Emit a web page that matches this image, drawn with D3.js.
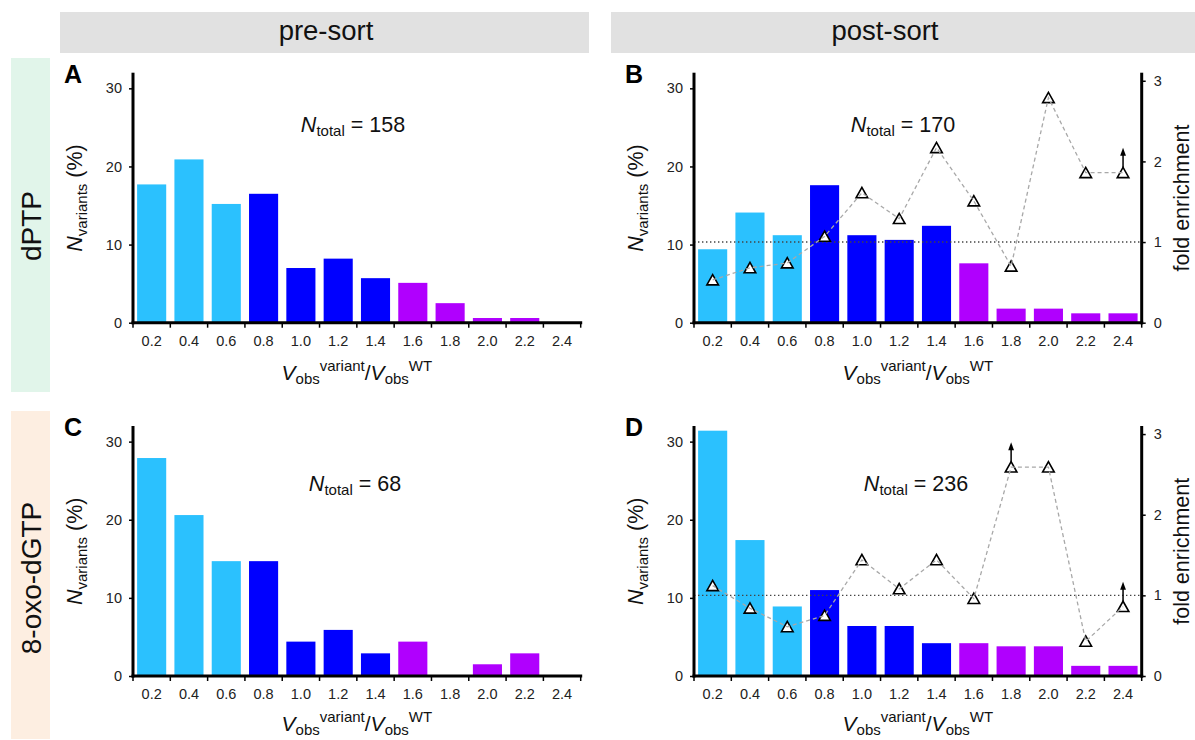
<!DOCTYPE html>
<html><head><meta charset="utf-8">
<script src="https://cdn.jsdelivr.net/npm/d3@7"></script>
<style>
body{margin:0;background:#fff;}
svg{display:block;font-family:"Liberation Sans",Arial,Helvetica,sans-serif;}
</style></head>
<body><svg id="c" width="1195" height="740"></svg>
<script>
// ---------- data ----------
const categories = ["0.2","0.4","0.6","0.8","1.0","1.2","1.4","1.6","1.8","2.0","2.2","2.4"];
const binGroup   = ["low","low","low","mid","mid","mid","mid","high","high","high","high","high"];
const preDPTP  = [17.7,20.9,15.2,16.5,7.0,8.2,5.7,5.1,2.5,0.6,0.6,0];
const postDPTP = [9.4,14.1,11.2,17.6,11.2,10.6,12.4,7.6,1.8,1.8,1.2,1.2];
const preOxo   = [27.9,20.6,14.7,14.7,4.4,5.9,2.9,4.4,0,1.5,2.9,0];
const postOxo  = [31.4,17.4,8.9,11.0,6.4,6.4,4.2,4.2,3.8,3.8,1.3,1.3];
const foldDPTP = [0.53,0.68,0.74,1.07,1.61,1.29,2.17,1.51,0.70,2.79,1.86,1.86];
const foldOxo  = [1.12,0.84,0.61,0.75,1.44,1.08,1.44,0.96,2.59,2.59,0.43,0.86];
const lowerBoundDPTP = ["2.4"];
const lowerBoundOxo  = ["1.8","2.4"];
const nTotals = {A:"158", B:"170", C:"68", D:"236"};
const yTicks = [0,10,20,30];
const foldTicks = [0,1,2,3];

const colors = {low:"#2BC1FE", mid:"#0000FF", high:"#B000FE"};

const svg = d3.select("#c");

// ---------- header bands / strips ----------
svg.append("rect").attr("x",60).attr("y",12).attr("width",529).attr("height",41).attr("fill","#e1e1e1");
svg.append("rect").attr("x",611).attr("y",12).attr("width",584).attr("height",41).attr("fill","#e1e1e1");
svg.append("text").attr("x",326).attr("y",40).attr("text-anchor","middle").attr("font-size",27.5).attr("fill","#111").text("pre-sort");
svg.append("text").attr("x",885).attr("y",40).attr("text-anchor","middle").attr("font-size",27.5).attr("fill","#111").text("post-sort");

svg.append("rect").attr("x",11).attr("y",58).attr("width",39).attr("height",334).attr("fill","#e1f5ea");
svg.append("rect").attr("x",11).attr("y",411).attr("width",39).attr("height",328).attr("fill","#fdeee1");
svg.append("text").attr("transform","translate(41,226) rotate(-90)").attr("text-anchor","middle").attr("font-size",28).attr("fill","#111").text("dPTP");
svg.append("text").attr("transform","translate(41,578) rotate(-90)").attr("text-anchor","middle").attr("font-size",28).attr("fill","#111").text("8-oxo-dGTP");

// ---------- panels ----------
const W = 447.7;
const panels = [
  {id:"A", x0:133, dy:0,     vals:preDPTP,  fold:null,     lb:[],             nx:353, ny:132, xt:380},
  {id:"B", x0:694, dy:0,     vals:postDPTP, fold:foldDPTP, lb:lowerBoundDPTP, nx:903, ny:132, xt:380},
  {id:"C", x0:133, dy:353.3, vals:preOxo,   fold:null,     lb:[],             nx:355, ny:491, xt:731},
  {id:"D", x0:694, dy:353.3, vals:postOxo,  fold:foldOxo,  lb:lowerBoundOxo,  nx:916, ny:491, xt:731}
];

panels.forEach(p => {
  const yTop = 72.7 + p.dy, yBot = 322.7 + p.dy;
  const x = d3.scaleBand().domain(categories).range([p.x0, p.x0 + W]).paddingInner(0.22).paddingOuter(0.11);
  const y = d3.scaleLinear().domain([0,32]).range([yBot, yTop]);
  const g = svg.append("g");

  // bars
  g.selectAll("rect.bar").data(categories).join("rect")
    .attr("class","bar")
    .attr("x", d => x(d))
    .attr("width", x.bandwidth())
    .attr("y", (d,i) => y(p.vals[i]))
    .attr("height", (d,i) => yBot - y(p.vals[i]))
    .attr("fill", (d,i) => colors[binGroup[i]]);

  // fold enrichment
  if (p.fold) {
    const yr = d3.scaleLinear().domain([0,3.1]).range([yBot, yTop]);
    g.append("line").attr("x1", p.x0).attr("x2", p.x0 + W)
      .attr("y1", yr(1)).attr("y2", yr(1))
      .attr("stroke","#444").attr("stroke-width",1.4).attr("stroke-dasharray","1.4,2.6");
    const pts = categories.map((c,i) => [x(c) + x.bandwidth()/2, yr(p.fold[i])]);
    categories.forEach((c,i) => {
      if (p.lb.includes(c)) {
        const cx = pts[i][0], cy = pts[i][1];
        g.append("line").attr("x1",cx).attr("x2",cx).attr("y1",cy-5).attr("y2",cy-18)
          .attr("stroke","#000").attr("stroke-width",1.5);
        g.append("path").attr("d",`M${cx},${cy-25}L${cx-2.9},${cy-17}L${cx+2.9},${cy-17}Z`).attr("fill","#000");
      }
    });
    g.selectAll("path.tri").data(pts).join("path").attr("class","tri")
      .attr("d", d => `M${d[0]},${d[1]-5.4}L${d[0]+5.8},${d[1]+4.9}L${d[0]-5.8},${d[1]+4.9}Z`)
      .attr("fill","#fff").attr("stroke","#000").attr("stroke-width",1.6);
    g.append("path").attr("d", d3.line()(pts)).attr("fill","none")
      .attr("stroke","#a8a8a8").attr("stroke-width",1.3).attr("stroke-dasharray","4,3");

    const ra = g.append("g").attr("transform",`translate(${p.x0 + W},0)`)
      .call(d3.axisRight(yr).tickValues(foldTicks).tickSize(4).tickSizeOuter(0).tickPadding(8).tickFormat(d3.format("d")));
    ra.select(".domain").attr("stroke-width",3).attr("d",`M0,${yTop}V${yBot+1.5}`);
    ra.selectAll(".tick line").attr("stroke-width",1.5);
    ra.selectAll("text").attr("font-size",14.5).attr("fill","#222").attr("font-family","Liberation Sans, Arial, sans-serif");

    g.append("text").attr("transform",`translate(1189,${198+p.dy}) rotate(-90)`)
      .attr("text-anchor","middle").attr("font-size",21.5).attr("fill","#111").text("fold enrichment");
  }

  // left axis
  const la = g.append("g").attr("transform",`translate(${p.x0},0)`)
    .call(d3.axisLeft(y).tickValues(yTicks).tickSize(4).tickSizeOuter(0).tickPadding(7));
  la.select(".domain").attr("stroke-width",3).attr("d",`M0,${yTop}V${yBot+1.5}`);
  la.selectAll(".tick line").attr("stroke-width",1.5);
  la.selectAll("text").attr("font-size",14.5).attr("fill","#222").attr("font-family","Liberation Sans, Arial, sans-serif");

  // bottom axis (labels at band centres, ticks at bin boundaries)
  const ba = g.append("g").attr("transform",`translate(0,${yBot})`)
    .call(d3.axisBottom(x).tickSize(0).tickPadding(13));
  ba.select(".domain").remove();
  ba.selectAll("text").attr("font-size",14.5).attr("fill","#222").attr("font-family","Liberation Sans, Arial, sans-serif");
  const bounds = d3.range(categories.length + 1).map(i => p.x0 + i * x.step());
  g.selectAll("line.bt").data(bounds).join("line").attr("class","bt")
    .attr("x1",d=>d).attr("x2",d=>d).attr("y1",yBot).attr("y2",yBot+5)
    .attr("stroke","#000").attr("stroke-width",1.5);
  g.append("line").attr("x1",p.x0-1.5).attr("x2",p.x0+W+1.5).attr("y1",yBot).attr("y2",yBot)
    .attr("stroke","#000").attr("stroke-width",3);

  // panel letter
  g.append("text").attr("x", p.x0 - 69).attr("y", 83 + p.dy)
    .attr("font-size",25).attr("font-weight","bold").attr("fill","#000").text(p.id);

  // y title
  const yt = g.append("text").attr("transform",`translate(${p.x0-51},${198+p.dy}) rotate(-90)`)
    .attr("text-anchor","middle").attr("font-size",21.5).attr("fill","#111");
  yt.append("tspan").attr("font-style","italic").text("N");
  yt.append("tspan").attr("font-size",15).attr("dy",5).text("variants");
  yt.append("tspan").attr("dy",-5).text("\u00a0(%)");

  // x title
  const xt = g.append("text").attr("x", p.x0 + W/2).attr("y", p.xt)
    .attr("text-anchor","middle").attr("font-size",21).attr("fill","#111");
  xt.append("tspan").attr("font-style","italic").text("V");
  xt.append("tspan").attr("font-size",15).attr("dy",4).text("obs");
  xt.append("tspan").attr("font-size",15).attr("dy",-13).text("variant");
  xt.append("tspan").attr("dy",9).text("/");
  xt.append("tspan").attr("font-style","italic").text("V");
  xt.append("tspan").attr("font-size",15).attr("dy",4).text("obs");
  xt.append("tspan").attr("font-size",15).attr("dy",-13).text("WT");

  // N total
  const nt = g.append("text").attr("x", p.nx).attr("y", p.ny)
    .attr("text-anchor","middle").attr("font-size",21.5).attr("fill","#111");
  nt.append("tspan").attr("font-style","italic").text("N");
  nt.append("tspan").attr("font-size",15).attr("dy",4).text("total");
  nt.append("tspan").attr("dy",-4).text(" = " + nTotals[p.id]);
});
</script>
</body></html>
